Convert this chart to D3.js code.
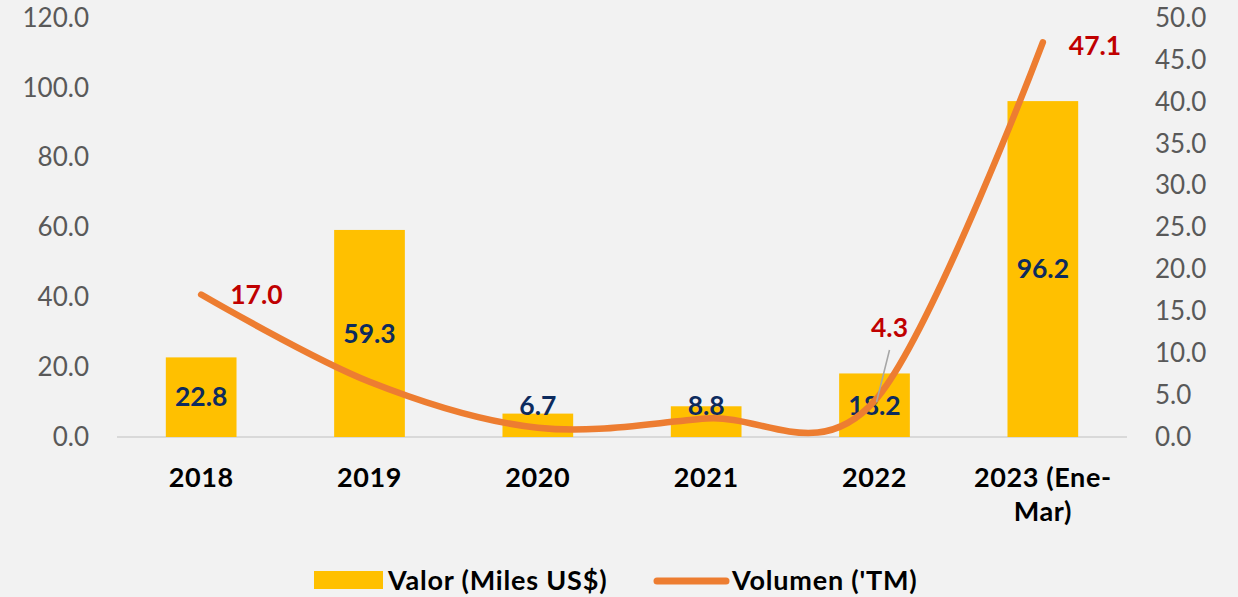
<!DOCTYPE html>
<html>
<head>
<meta charset="utf-8">
<script src="https://cdn.jsdelivr.net/npm/d3@7"></script>
<style>
  html, body { margin: 0; padding: 0; background: #f2f2f2; }
  svg { display: block; }
  text { font-family: Lato, "Open Sans", sans-serif; }
</style>
</head>
<body>
<script>
const categories = ["2018", "2019", "2020", "2021", "2022", "2023 (Ene-Mar)"];
const categoryLines = [["2018"], ["2019"], ["2020"], ["2021"], ["2022"], ["2023 (Ene-", "Mar)"]];
const valor = [22.8, 59.3, 6.7, 8.8, 18.2, 96.2];
const volumen = [17.0, 6.6, 1.1, 2.2, 4.3, 47.1];
const volumenLabels = ["17.0", null, null, null, "4.3", "47.1"];
const leftTicks = [0, 20, 40, 60, 80, 100, 120];
const rightTicks = [0, 5, 10, 15, 20, 25, 30, 35, 40, 45, 50];
const seriesNames = ["Valor (Miles US$)", "Volumen ('TM)"];

const W = 1238, H = 597;
const svg = d3.select("body").append("svg").attr("width", W).attr("height", H);
svg.append("rect").attr("width", W).attr("height", H).attr("fill", "#f2f2f2");

const x = d3.scaleBand().domain(categories).range([117, 1127]).paddingInner(0.58).paddingOuter(0.29);
const yL = d3.scaleLinear().domain([0, 120]).range([437, 18]);
const yR = d3.scaleLinear().domain([0, 50]).range([437, 18]);

// left axis labels
const axL = svg.append("g").attr("transform", "translate(92,0)")
  .call(d3.axisLeft(yL).tickValues(leftTicks).tickFormat(d3.format(".1f")).tickSize(0).tickPadding(3));
axL.select(".domain").remove();
axL.selectAll("text").attr("fill", "#595959").attr("font-size", 26).attr("font-family", "Lato, sans-serif");

// right axis labels
const axR = svg.append("g").attr("transform", "translate(1152,0)")
  .call(d3.axisRight(yR).tickValues(rightTicks).tickFormat(d3.format(".1f")).tickSize(0).tickPadding(3));
axR.select(".domain").remove();
axR.selectAll("text").attr("fill", "#595959").attr("font-size", 26).attr("font-family", "Lato, sans-serif");

// baseline
svg.append("line").attr("x1", 117).attr("x2", 1127).attr("y1", yL(0)).attr("y2", yL(0))
  .attr("stroke", "#d9d9d9").attr("stroke-width", 2);

// bars
svg.selectAll("rect.bar").data(valor).join("rect").attr("class", "bar")
  .attr("x", (d, i) => x(categories[i]))
  .attr("width", x.bandwidth())
  .attr("y", d => yL(d))
  .attr("height", d => yL(0) - yL(d))
  .attr("fill", "#FFC000");

// bar labels
svg.selectAll("text.blab").data(valor).join("text").attr("class", "blab")
  .attr("x", (d, i) => x(categories[i]) + x.bandwidth() / 2)
  .attr("y", d => Math.min((yL(d) + yL(0)) / 2, yL(0) - 31))
  .attr("dy", "0.35em")
  .attr("text-anchor", "middle")
  .attr("font-size", 26.5).attr("font-weight", "bold").attr("fill", "#0d2b5e")
  .text(d => d3.format(".1f")(d));

// line
const cx = i => x(categories[i]) + x.bandwidth() / 2;
const line = d3.line().x((d, i) => cx(i)).y(d => yR(d)).curve(d3.curveCardinal.tension(0));
svg.append("path").datum(volumen).attr("d", line)
  .attr("fill", "none").attr("stroke", "#ED7D31").attr("stroke-width", 6.5).attr("stroke-linecap", "round");

// leader line for 2022 label
svg.append("line")
  .attr("x1", cx(4) + 15).attr("y1", yR(volumen[4]) - 51)
  .attr("x2", cx(4) + 2).attr("y2", yR(volumen[4]) + 1)
  .attr("stroke", "#a6a6a6").attr("stroke-width", 1.5);

// line labels
const lineLabelOffsets = [[29, 0], null, null, null, [15, -73], [26, 3]];
volumen.forEach((v, i) => {
  if (!volumenLabels[i]) return;
  const o = lineLabelOffsets[i];
  svg.append("text")
    .attr("x", cx(i) + o[0]).attr("y", yR(v) + o[1]).attr("dy", "0.35em")
    .attr("text-anchor", i === 4 ? "middle" : "start")
    .attr("font-size", 26.5).attr("font-weight", "bold").attr("fill", "#C00000")
    .text(volumenLabels[i]);
});

// category labels
categoryLines.forEach((lines, i) => {
  const t = svg.append("text").attr("x", cx(i)).attr("y", 487)
    .attr("text-anchor", "middle").attr("font-size", 27).attr("font-weight", "bold").attr("fill", "#000")
    .attr("letter-spacing", 0.6);
  lines.forEach((l, j) => t.append("tspan").attr("x", cx(i)).attr("dy", j === 0 ? 0 : 34).text(l));
});

// legend
const lg = svg.append("g");
lg.append("rect").attr("x", 314).attr("y", 571).attr("width", 69).attr("height", 18).attr("fill", "#FFC000");
lg.append("text").attr("x", 388).attr("y", 590).attr("font-size", 27).attr("font-weight", "bold").attr("fill", "#000")
  .attr("letter-spacing", 0.8).text(seriesNames[0]);
lg.append("line").attr("x1", 657).attr("x2", 726).attr("y1", 581).attr("y2", 581)
  .attr("stroke", "#ED7D31").attr("stroke-width", 7).attr("stroke-linecap", "round");
lg.append("text").attr("x", 732).attr("y", 590).attr("font-size", 27).attr("font-weight", "bold").attr("fill", "#000")
  .attr("letter-spacing", 0.8).text(seriesNames[1]);
</script>
</body>
</html>
